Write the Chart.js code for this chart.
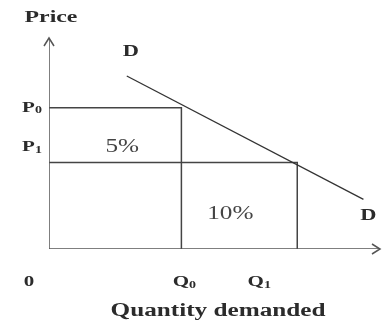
<!DOCTYPE html>
<html lang="en">
<head>
    <meta charset="UTF-8">
    <title>Demand curve</title>
    <script src="https://cdn.jsdelivr.net/npm/chart.js"></script>
    <style>
        body {
            margin: 0;
            background: #fff;
        }

        .chart-box {
            width: 382px;
            height: 324px;
            position: relative;
        }
    </style>
</head>
<body>

<div class="chart-box">
    <canvas id="demandChart"></canvas>
</div>

<script>
    // chart values (axis units 0..10)
    const quantityLevels = [4.0, 7.5];          // Q0, Q1
    const priceLevels = [6.7, 4.1];             // P0, P1
    const demandX = [2.35, 9.5];
    const demandY = [8.2, 2.35];
    const priceTicks = [['P', '0'], ['P', '1']];
    const quantityTicks = [['0', ''], ['Q', '0'], ['Q', '1']];
    const shareLabels = ['5%', '10%'];
    const axisMax = 10;

    const ink = '#2b2b2b';
    const serif = '"Liberation Serif", "DejaVu Serif", serif';
    const stretch = 1.4; // the scanned text is wide

    function toPoints(xs, ys) {
        return xs.map((x, i) => ({ x: x, y: ys[i] }));
    }

    // centred text, widened horizontally
    function drawText(ctx, text, x, y, font) {
        ctx.save();
        ctx.translate(x, y);
        ctx.scale(stretch, 1);
        ctx.font = font;
        ctx.textAlign = 'center';
        ctx.textBaseline = 'middle';
        ctx.fillText(text, 0, 0);
        ctx.restore();
    }

    // text with a small subscript, centred on (x, y)
    function drawSub(ctx, base, sub, x, y, size) {
        const big = 'bold ' + size + 'px ' + serif;
        const small = 'bold ' + Math.round(size * 0.65) + 'px ' + serif;
        ctx.save();
        ctx.translate(x, y);
        ctx.scale(stretch, 1);
        ctx.font = big;
        const w1 = ctx.measureText(base).width;
        ctx.font = small;
        const w2 = ctx.measureText(sub).width;
        const left = -(w1 + w2) / 2;
        ctx.textAlign = 'left';
        ctx.textBaseline = 'middle';
        ctx.font = big;
        ctx.fillText(base, left, 0);
        ctx.font = small;
        ctx.fillText(sub, left + w1, size * 0.2);
        ctx.restore();
    }

    const annotations = {
        id: 'annotations',
        afterDatasetsDraw(chart) {
            const ctx = chart.ctx;
            const xs = chart.scales.x;
            const ys = chart.scales.y;
            const ox = xs.getPixelForValue(0);
            const oy = ys.getPixelForValue(0);
            const top = ys.getPixelForValue(axisMax);
            const right = xs.getPixelForValue(axisMax);

            ctx.save();
            // arrow heads
            ctx.strokeStyle = '#555';
            ctx.lineWidth = 1.5;
            ctx.beginPath();
            ctx.moveTo(ox - 5, top + 8);
            ctx.lineTo(ox, top);
            ctx.lineTo(ox + 5, top + 8);
            ctx.moveTo(right - 8, oy - 5);
            ctx.lineTo(right, oy);
            ctx.lineTo(right - 8, oy + 5);
            ctx.stroke();

            ctx.fillStyle = ink;

            // axis titles
            drawText(ctx, 'Price', 51, 18, 'bold 17px ' + serif);
            drawText(ctx, 'Quantity demanded', 218, 311, 'bold 18px ' + serif);

            // demand labels
            drawText(ctx, 'D', xs.getPixelForValue(demandX[0]) + 4, ys.getPixelForValue(demandY[0]) - 24, 'bold 16px ' + serif);
            drawText(ctx, 'D', xs.getPixelForValue(demandX[1]) + 5, ys.getPixelForValue(demandY[1]) + 16, 'bold 16px ' + serif);

            // price ticks
            drawSub(ctx, priceTicks[0][0], priceTicks[0][1], 32, ys.getPixelForValue(priceLevels[0]), 15);
            drawSub(ctx, priceTicks[1][0], priceTicks[1][1], 32, ys.getPixelForValue(priceLevels[1]) - 15, 15);

            // quantity ticks
            const qPos = [0].concat(quantityLevels);
            quantityTicks.forEach((t, i) => {
                const px = i === 0 ? 29 : xs.getPixelForValue(qPos[i]) + (i === 1 ? 3 : -38);
                drawSub(ctx, t[0], t[1], px, 282, 15);
            });

            // share labels
            ctx.fillStyle = '#444';
            drawText(ctx, shareLabels[0], xs.getPixelForValue(quantityLevels[0] / 2) + 7, ys.getPixelForValue(priceLevels[1]) - 15, '18px ' + serif);
            drawText(ctx, shareLabels[1], xs.getPixelForValue((quantityLevels[0] + quantityLevels[1]) / 2) - 9,
                (ys.getPixelForValue(priceLevels[1]) + oy) / 2 + 9, '18px ' + serif);
            ctx.restore();
        }
    };

    function createChart() {
        const ctx = document.getElementById('demandChart').getContext('2d');
        const lineStyle = { showLine: true, pointRadius: 0, fill: false, tension: 0 };
        new Chart(ctx, {
            type: 'scatter',
            data: {
                datasets: [
                    Object.assign({
                        label: 'Axes',
                        data: toPoints([0, 0, axisMax], [axisMax, 0, 0]),
                        borderColor: '#555',
                        borderWidth: 1.5
                    }, lineStyle),
                    Object.assign({
                        label: 'Demand',
                        data: toPoints(demandX, demandY),
                        borderColor: '#333',
                        borderWidth: 1.3
                    }, lineStyle),
                    Object.assign({
                        label: 'P0 Q0',
                        data: toPoints([0, quantityLevels[0], quantityLevels[0]], [priceLevels[0], priceLevels[0], 0]),
                        borderColor: '#444',
                        borderWidth: 1.5
                    }, lineStyle),
                    Object.assign({
                        label: 'P1 Q1',
                        data: toPoints([0, quantityLevels[1], quantityLevels[1]], [priceLevels[1], priceLevels[1], 0]),
                        borderColor: '#444',
                        borderWidth: 1.5
                    }, lineStyle)
                ]
            },
            options: {
                responsive: true,
                maintainAspectRatio: false,
                animation: false,
                layout: { padding: { left: 49, right: 2, top: 38, bottom: 75 } },
                scales: {
                    x: { type: 'linear', min: 0, max: axisMax, display: false },
                    y: { type: 'linear', min: 0, max: axisMax, display: false }
                },
                plugins: {
                    legend: { display: false },
                    tooltip: { enabled: false }
                }
            },
            plugins: [annotations]
        });
    }

    window.onload = function() {
        createChart();
    };
</script>

</body>
</html>
